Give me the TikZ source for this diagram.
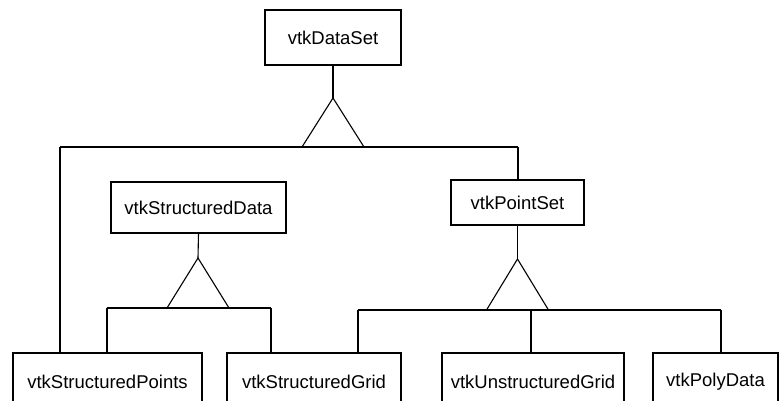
\documentclass[tikz,border=0pt]{standalone}
\usepackage{fontspec}
\setmainfont{Liberation Sans}
\usepackage{tikz}

\begin{document}
\begin{tikzpicture}[x=1pt,y=-1pt,line width=1.1pt,
  cls/.style={draw=black,inner sep=0pt,font=\fontsize{18.5}{22}\selectfont}]
\useasboundingbox (0,0) rectangle (779,401);
\clip (0,0) rectangle (779,401);
% classes:
\node[cls,minimum width=136pt,minimum height=55pt] (dataset) at (333,37.5) {vtkDataSet};
\node[cls,minimum width=175pt,minimum height=51pt] (structdata) at (198.5,207.5) {vtkStructuredData};
\node[cls,minimum width=133pt,minimum height=45pt] (pointset) at (517.5,202.5) {vtkPointSet};
\node[cls,minimum width=189pt,minimum height=58pt] (spoints) at (107.5,382) {vtkStructuredPoints};
\node[cls,minimum width=174pt,minimum height=58pt] (sgrid) at (314,382) {vtkStructuredGrid};
\node[cls,minimum width=182pt,minimum height=58pt] (ugrid) at (533,382) {vtkUnstructuredGrid};
\node[cls,minimum width=125pt,minimum height=58pt] (polydata) at (715.5,382) {vtkPolyData};
% inheritance from vtkDataSet:
\coordinate (dsTip) at (333,98);
\coordinate (dsBusL) at (60,147);
\coordinate (dsBusR) at (518,147);
\draw (dataset.south) -- (dsTip);
\draw (dsTip) ++(-31,49) -- (dsTip) -- ++(31,49);
\draw (dsBusL) -- (dsBusR);
\draw (dsBusL) -- (dsBusL |- spoints.north);
\draw (dsBusR) -- (dsBusR |- pointset.north);
% inheritance from vtkStructuredData:
\coordinate (sdTip) at (198,258);
\coordinate (sdBusL) at (107,308);
\coordinate (sdBusR) at (271,308);
\draw (structdata.south) -- (sdTip);
\draw (sdTip) ++(-31,50) -- (sdTip) -- ++(31,50);
\draw (sdBusL) -- (sdBusR);
\draw (sdBusL) -- (sdBusL |- spoints.north);
\draw (sdBusR) -- (sdBusR |- sgrid.north);
% inheritance from vtkPointSet:
\coordinate (psTip) at (517.5,259);
\coordinate (psBusL) at (358,310);
\coordinate (psBusM) at (531,310);
\coordinate (psBusR) at (721,310);
\draw (pointset.south) -- (psTip);
\draw (psTip) ++(-31,51) -- (psTip) -- ++(31,51);
\draw (psBusL) -- (psBusR);
\draw (psBusL) -- (psBusL |- sgrid.north);
\draw (psBusM) -- (psBusM |- ugrid.north);
\draw (psBusR) -- (psBusR |- polydata.north);
\end{tikzpicture}
\end{document}
